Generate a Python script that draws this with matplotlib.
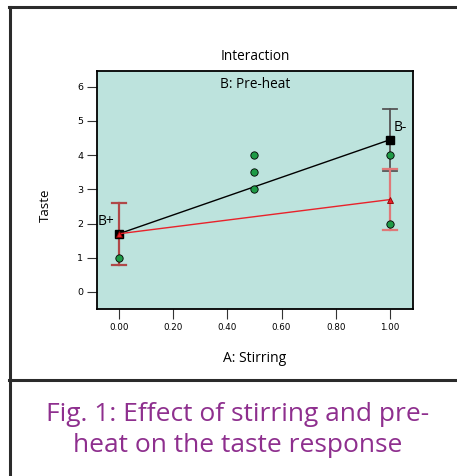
import matplotlib.pyplot as plt
from matplotlib.lines import Line2D

# --- data ---
stirring = [0.0, 1.0]
taste_bplus = [1.7, 2.7]          # B+ (red triangles)
taste_bminus = [1.7, 4.45]        # B- (black squares)
err_bplus_lo = [0.8, 1.8]
err_bplus_hi = [2.6, 3.6]
err_bminus_lo = [0.8, 3.55]
err_bminus_hi = [2.6, 5.35]
obs_x = [0.0, 0.5, 0.5, 0.5, 1.0, 1.0]
obs_y = [1.0, 3.0, 3.5, 4.0, 4.0, 2.0]
xticks = [0.0, 0.2, 0.4, 0.6, 0.8, 1.0]
xtick_labels = ['0.00', '0.20', '0.40', '0.60', '0.80', '1.00']
yticks = [0, 1, 2, 3, 4, 5, 6]

fig = plt.figure(figsize=(4.57, 4.76), dpi=100)
fig.patch.set_facecolor('white')

# outer frame lines
W, H = 457, 476
frame = dict(color='#2b2b2b', lw=2.2, transform=fig.transFigure)
fig.add_artist(Line2D([10 / W, 10 / W], [0, 1 - 7 / H], **frame))
fig.add_artist(Line2D([9 / W, 1], [1 - 7 / H, 1 - 7 / H], **frame))
fig.add_artist(Line2D([9 / W, 1], [1 - 380 / H, 1 - 380 / H], **frame))

ax = fig.add_axes([97 / W, 1 - 309 / H, 316 / W, 238 / H])
ax.set_facecolor('#bde3dd')
ax.set_xlim(-0.081, 1.085)
ax.set_ylim(-0.5, 6.46)

# error bars
for x, lo, hi in zip(stirring, err_bminus_lo, err_bminus_hi):
    ax.plot([x, x], [lo, hi], color='#555555', lw=1.3, zorder=2)
    for y in (lo, hi):
        ax.plot([x - 0.025, x + 0.025], [y, y], color='#555555', lw=1.3, zorder=2)
bplus_colors = ['#b04848', '#e07878']
for x, lo, hi, c in zip(stirring, err_bplus_lo, err_bplus_hi, bplus_colors):
    ax.plot([x, x], [lo, hi], color=c, lw=1.6, zorder=3)
    for y in (lo, hi):
        ax.plot([x - 0.025, x + 0.025], [y, y], color=c, lw=1.6, zorder=3)

ax.plot(stirring, taste_bminus, color='black', lw=1.0, zorder=4,
        marker='s', ms=5.5, mfc='black', mec='black')
ax.plot(stirring, taste_bplus, color='#e8222a', lw=1.0, zorder=5,
        marker='^', ms=4, mfc='#e8222a', mec='#8b0000', mew=0.6)
ax.scatter(obs_x, obs_y, s=28, c='#1e9a46', edgecolors='black',
           linewidths=0.6, zorder=6, marker='o')

ax.text(-0.078, 2.05, 'B+', fontsize=10, ha='left', va='center',
        family='Open Sans', zorder=7)
ax.text(1.015, 4.8, 'B-', fontsize=10, ha='left', va='center',
        family='Open Sans', zorder=7)
ax.text(0.5, 0.945, 'B: Pre-heat', transform=ax.transAxes, fontsize=9.8,
        ha='center', va='center', family='Open Sans')

ax.set_xticks(xticks)
ax.set_xticklabels(xtick_labels, fontsize=6.3, family='Liberation Sans Narrow')
ax.set_yticks(yticks)
ax.set_yticklabels([str(v) for v in yticks], fontsize=6.8)
ax.tick_params(axis='both', length=7, width=0.8, color='#333333', pad=3)
for sp in ax.spines.values():
    sp.set_linewidth(1.3)

fig.text(255 / W, 1 - 57 / H, 'Interaction', fontsize=9.8, ha='center',
         va='center', family='Open Sans')
fig.text(255 / W, 1 - 358 / H, 'A: Stirring', fontsize=10, ha='center',
         va='center', family='Open Sans')
fig.text(45 / W, 1 - 205 / H, 'Taste', fontsize=9.5, ha='center', va='center',
         rotation=90, family='Open Sans')

fig.text(238 / W, 1 - 430 / H, 'Fig. 1: Effect of stirring and pre-\nheat on the taste response',
         fontsize=19, ha='center', va='center', color='#8e2f8e',
         family='Open Sans', linespacing=1.3)

fig.savefig('out.png', dpi=100, facecolor='white')
